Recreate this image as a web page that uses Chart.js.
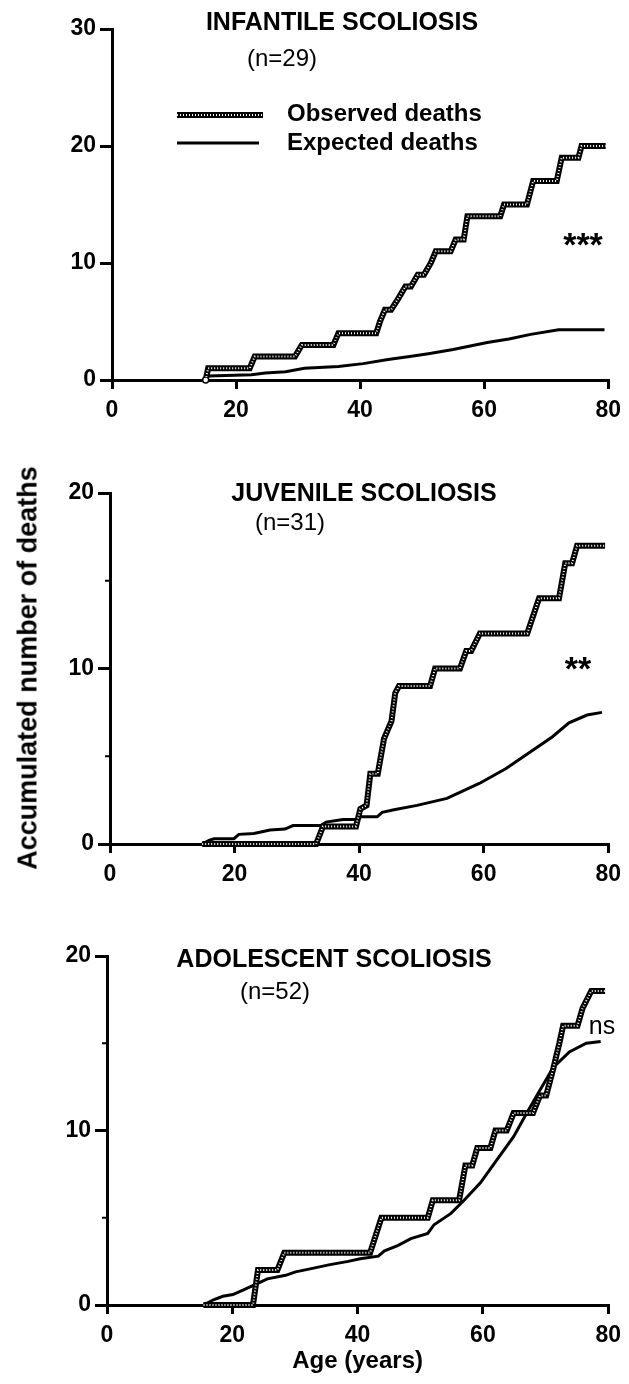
<!DOCTYPE html>
<html>
<head>
<meta charset="utf-8">
<script src="https://cdn.jsdelivr.net/npm/chart.js@4.4.1/dist/chart.umd.min.js"></script>
<style>
body { margin:0; background:#fff; width:629px; height:1384px; position:relative; overflow:hidden; font-family:'Liberation Sans', Arial, sans-serif; }
canvas { position:absolute; left:0; }
#ytitle { position:absolute; left:28px; top:668px; transform:translate(-50%,-50%) rotate(-90deg); font-weight:bold; font-size:27px; white-space:nowrap; color:#000; }
</style>
</head>
<body>
<canvas id="c1" width="629" height="460" style="top:0px"></canvas>
<canvas id="c2" width="629" height="460" style="top:460px"></canvas>
<canvas id="c3" width="629" height="464" style="top:920px"></canvas>
<div id="ytitle">Accumulated number of deaths</div>
<script>
// Infantile scoliosis (n=29)
var inf_obs_age = [15.1,15.5,22.2,23.0,29.5,30.6,35.7,36.5,42.6,43.2,44.0,45.0,46.2,47.3,48.2,49.3,50.3,51.4,52.2,54.6,55.4,56.7,57.3,62.6,63.2,66.9,67.9,71.7,72.5,75.2,75.7,79.6];
var inf_obs_n   = [0,1,1,2,2,3,3,4,4,5,6,6,7,8,8,9,9,10,11,11,12,12,14,14,15,15,17,17,19,19,20,20];
var inf_exp_age = [15.1,15.6,22.5,24.7,28.0,31.0,36.5,40.5,44.5,48.0,51.0,55.0,60.5,64.0,67.5,72.0,79.4];
var inf_exp_n   = [0,0.35,0.45,0.6,0.7,1.0,1.15,1.4,1.75,2.0,2.25,2.6,3.2,3.5,3.9,4.3,4.3];

// Juvenile scoliosis (n=31)
var juv_obs_age = [14.8,33.1,34.2,39.5,40.2,41.2,41.8,43.0,44.0,44.6,45.2,45.8,46.4,51.4,52.2,56.2,57.2,58.0,59.4,67.0,68.9,72.1,73.1,74.2,75.0,79.5];
var juv_obs_n   = [0,0,1,1,2,2.2,4,4,6,6.5,7,8.6,9,9,10,10,11,11,12,12,14,14,16,16,17,17];
var juv_exp_age = [14.8,15.9,16.7,19.9,20.7,23.1,25.7,28.1,29.4,33.9,34.7,37.4,39.7,40.3,42.9,43.7,45.6,49.3,54.1,59.3,63.6,67.3,71.0,73.7,76.6,79.0];
var juv_exp_n   = [0,0.2,0.3,0.3,0.55,0.6,0.8,0.85,1.05,1.05,1.25,1.4,1.4,1.55,1.55,1.8,1.95,2.2,2.6,3.45,4.3,5.2,6.1,6.9,7.35,7.5];

// Adolescent scoliosis (n=52)
var ado_obs_age = [15.4,23.3,24.1,27.2,28.3,42.0,43.8,51.2,52.0,56.2,57.2,58.3,59.1,61.2,62.0,63.8,64.9,68.0,69.1,70.1,71.2,72.2,72.8,75.1,75.9,77.3,79.5];
var ado_obs_n   = [0,0,2,2,3,3,5,5,6,6,8,8,9,9,10,10,11,11,12,12,13.5,15,16,16,17,18,18];
var ado_exp_age = [15.4,17.0,18.5,20.1,21.7,23.8,25.6,28.5,30.1,32.8,35.4,38.5,40.4,43.3,44.3,46.4,48.5,51.2,52.2,54.9,57.0,59.6,62.2,64.9,67.0,69.1,71.2,73.8,76.5,78.8];
var ado_exp_n   = [0,0.3,0.5,0.6,0.85,1.2,1.5,1.7,1.9,2.1,2.3,2.5,2.65,2.8,3.1,3.4,3.8,4.1,4.6,5.25,6.0,7.0,8.3,9.65,11.0,12.3,13.6,14.5,15.0,15.1];

var x_ticks = [0,20,40,60,80];

var FONT = "'Liberation Sans', Arial, sans-serif";
var DOTS = [1, 2];

function pts(xs, ys)
{
    var out = [];
    for (var i = 0; i < xs.length; i++) {
        out.push({x: xs[i], y: ys[i]});
    }
    return out;
}

// stippled line sample, used by the legend
function stipple(c, x1, x2, y)
{
    c.save();
    c.lineCap = 'butt';
    c.strokeStyle = '#000';
    c.lineWidth = 6;
    c.beginPath(); c.moveTo(x1, y); c.lineTo(x2, y); c.stroke();
    c.strokeStyle = '#fff';
    c.lineWidth = 2;
    c.setLineDash(DOTS);
    c.beginPath(); c.moveTo(x1, y); c.lineTo(x2, y); c.stroke();
    c.restore();
}

function panel(id, box, yMax, minor, obs, exp, texts, legend, xTitle)
{
    var canvas = document.getElementById(id);
    var H = canvas.height;

    var textPlugin = {
        id: 'panelText',
        afterDraw: function(chart) {
            var c = chart.ctx;
            var ya = chart.scales.y;
            // short minor ticks on y axis
            if (minor) {
                c.save();
                c.strokeStyle = '#000';
                c.lineWidth = 2;
                for (var v = 5; v < yMax; v += 10) {
                    var py = ya.getPixelForValue(v);
                    c.beginPath(); c.moveTo(chart.chartArea.left - 5, py); c.lineTo(chart.chartArea.left, py); c.stroke();
                }
                c.restore();
            }

            c.save();
            c.fillStyle = '#000';
            texts.forEach(function(t) {
                c.font = t.font;
                c.textAlign = t.align || 'center';
                c.textBaseline = 'middle';
                c.fillText(t.text, t.x, t.y);
            });
            if (legend) {
                stipple(c, 177, 263, 115);
                c.strokeStyle = '#000';
                c.lineWidth = 3;
                c.beginPath(); c.moveTo(177, 143); c.lineTo(259, 143); c.stroke();
                c.font = 'bold 24px ' + FONT;
                c.textAlign = 'left';
                c.textBaseline = 'middle';
                c.fillText('Observed deaths', 287, 114);
                c.fillText('Expected deaths', 287, 143);
            }
            c.restore();
        }
    };

    return new Chart(canvas, {
        type: 'line',
        data: {
            datasets: [
                { label: 'Observed deaths', data: pts(obs[0], obs[1]), borderColor: '#fff', borderWidth: 2, borderDash: DOTS, order: 0, clip: 10 },
                { label: 'Observed deaths', data: pts(obs[0], obs[1]), borderColor: '#000', borderWidth: 6, order: 1, clip: 10,
                  pointRadius: function(ctx) { return (legend && ctx.dataIndex === 0) ? 3 : 0; },
                  pointBackgroundColor: '#fff', pointBorderColor: '#000', pointBorderWidth: 1.5 },
                { label: 'Expected deaths', data: pts(exp[0], exp[1]), borderColor: '#000', borderWidth: 3, order: 2, clip: 10 }
            ]
        },
        options: {
            responsive: false,
            animation: false,
            devicePixelRatio: 1,
            layout: { padding: { top: box.top, right: 629 - box.right, left: 0, bottom: 0 } },
            elements: {
                point: { radius: 0 },
                line: { tension: 0, borderCapStyle: 'butt', borderJoinStyle: 'miter' }
            },
            plugins: {
                legend: { display: false },
                tooltip: { enabled: false }
            },
            scales: {
                x: {
                    type: 'linear', min: 0, max: 80,
                    afterFit: function(s) { s.height = H - box.bottom; },
                    afterBuildTicks: function(s) { s.ticks = x_ticks.map(function(v) { return {value: v}; }); },
                    border: { color: '#000', width: 3 },
                    grid: { drawOnChartArea: false, color: '#000', lineWidth: 3, tickLength: 9 },
                    ticks: { color: '#000', font: { family: FONT, size: 23, weight: 'bold' }, padding: 8, maxRotation: 0 },
                    title: xTitle ? { display: true, text: xTitle, color: '#000', font: { family: FONT, size: 24, weight: 'bold' }, padding: { top: 4, bottom: 8 } } : { display: false }
                },
                y: {
                    min: 0, max: yMax,
                    afterFit: function(s) { s.width = box.left; },
                    border: { color: '#000', width: 3 },
                    grid: { drawOnChartArea: false, color: '#000', lineWidth: 3, tickLength: 12 },
                    ticks: { stepSize: 10, color: '#000', font: { family: FONT, size: 23, weight: 'bold' }, padding: 4 }
                }
            }
        },
        plugins: [textPlugin]
    });
}

var bold25 = 'bold 25px ' + FONT;
var norm24 = '24px ' + FONT;
var stars = 'bold 34px ' + FONT;

panel('c1', {left: 112, right: 612, top: 29, bottom: 380}, 30, false,
    [inf_obs_age, inf_obs_n], [inf_exp_age, inf_exp_n],
    [
        {text: 'INFANTILE SCOLIOSIS', x: 342, y: 23, font: bold25},
        {text: '(n=29)', x: 282, y: 59, font: norm24},
        {text: '***', x: 583, y: 247, font: stars}
    ], true, null);

panel('c2', {left: 110, right: 613, top: 33, bottom: 384}, 20, true,
    [juv_obs_age, juv_obs_n], [juv_exp_age, juv_exp_n],
    [
        {text: 'JUVENILE SCOLIOSIS', x: 364, y: 34, font: bold25},
        {text: '(n=31)', x: 290, y: 63, font: norm24},
        {text: '**', x: 578, y: 211, font: stars}
    ], false, null);

panel('c3', {left: 107, right: 613, top: 36, bottom: 385}, 20, true,
    [ado_obs_age, ado_obs_n], [ado_exp_age, ado_exp_n],
    [
        {text: 'ADOLESCENT SCOLIOSIS', x: 334, y: 40, font: bold25},
        {text: '(n=52)', x: 275, y: 72, font: norm24},
        {text: 'ns', x: 602, y: 107, font: '25px ' + FONT}
    ], false, 'Age (years)');
</script>
</body>
</html>
